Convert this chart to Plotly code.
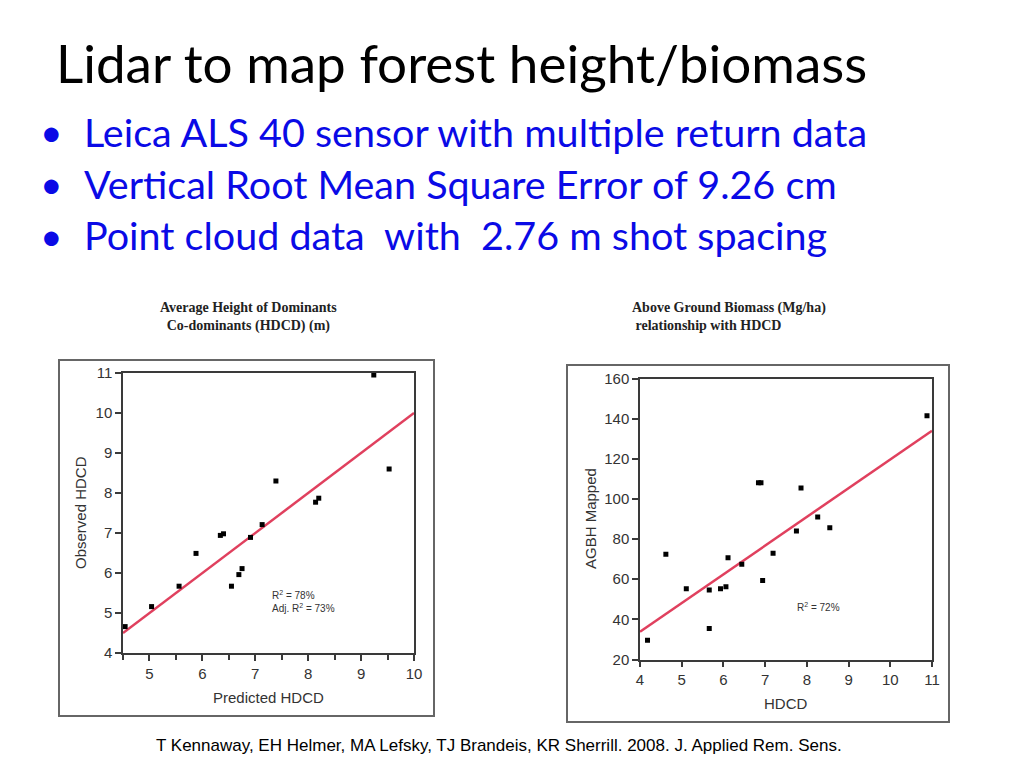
import plotly.graph_objects as go

# page is 1024x768; browser body has an 8px margin, so the figure is 1008x752
OFF = 8
W, H = 1024 - 2 * OFF, 768 - 2 * OFF

# ---- Data: left chart (Predicted vs Observed HDCD) ----
pred_hdcd = [4.54, 5.04, 5.56, 5.88, 6.34, 6.40, 6.55, 6.69, 6.75, 6.91, 7.13, 7.39, 8.14, 8.20, 9.24, 9.53]
obs_hdcd = [4.66, 5.16, 5.67, 6.49, 6.94, 6.98, 5.67, 5.96, 6.11, 6.89, 7.21, 8.30, 7.77, 7.87, 10.95, 8.60]
fit1_x = [4.5, 10.0]
fit1_y = [4.5, 10.0]

# ---- Data: right chart (HDCD vs AGBH Mapped) ----
hdcd = [4.18, 4.62, 5.11, 5.66, 5.66, 5.93, 6.06, 6.11, 6.44, 6.84, 6.90, 6.94, 7.19, 7.75, 7.86, 8.26, 8.55, 10.88]
agbh = [29.6, 72.4, 55.2, 54.6, 35.5, 55.2, 56.2, 70.7, 67.5, 108.1, 108.1, 59.4, 72.9, 84.0, 105.5, 91.0, 85.7, 141.5]
fit2_x = [4.0, 11.0]
fit2_y = [33.8, 134.0]

title_text = "Lidar to map forest height/biomass"
bullets = [
    "Leica ALS 40 sensor with multiple return data",
    "Vertical Root Mean Square Error of 9.26 cm",
    "Point cloud data  with  2.76 m shot spacing",
]
footnote = "T Kennaway, EH Helmer, MA Lefsky, TJ Brandeis, KR Sherrill. 2008. J. Applied Rem. Sens."


def px(x):
    return (x - OFF) / W


def py(y):
    return 1 - (y - OFF) / H


MARK = dict(symbol="square", size=5, color="black")
LINE = dict(color="#E0405E", width=2.5)
AX_COL = "#3a3a3a"
TICK_FONT = dict(family="Liberation Sans, Arial", size=15, color="#333333")

fig = go.Figure()
fig.add_trace(go.Scatter(x=fit1_x, y=fit1_y, mode="lines", line=LINE, xaxis="x", yaxis="y", hoverinfo="skip"))
fig.add_trace(go.Scatter(x=pred_hdcd, y=obs_hdcd, mode="markers", marker=MARK, xaxis="x", yaxis="y"))
fig.add_trace(go.Scatter(x=fit2_x, y=fit2_y, mode="lines", line=LINE, xaxis="x2", yaxis="y2", hoverinfo="skip"))
fig.add_trace(go.Scatter(x=hdcd, y=agbh, mode="markers", marker=MARK, xaxis="x2", yaxis="y2"))

axis_common = dict(showline=True, linecolor=AX_COL, linewidth=1.5, mirror=True,
                   ticks="outside", ticklen=6, tickcolor=AX_COL, tickwidth=1.5,
                   showgrid=False, zeroline=False, tickfont=TICK_FONT, automargin=False)

fig.update_layout(
    width=W, height=H,
    margin=dict(l=0, r=0, t=0, b=0, pad=0, autoexpand=False),
    paper_bgcolor="white", plot_bgcolor="white",
    showlegend=False,
    xaxis=dict(domain=[px(123), px(414)], range=[4.5, 10], tickmode="array",
               tickvals=[5, 6, 7, 8, 9, 10], anchor="y",
               minor=dict(tickvals=[4.5, 5.5, 6.5, 7.5, 8.5, 9.5], ticks="outside", ticklen=5,
                          tickcolor=AX_COL, tickwidth=1.5),
               **axis_common),
    yaxis=dict(domain=[py(653), py(373)], range=[4, 11], dtick=1, anchor="x", **axis_common),
    xaxis2=dict(domain=[px(640), px(932)], range=[4, 11], dtick=1, anchor="y2", **axis_common),
    yaxis2=dict(domain=[py(659.5), py(378.5)], range=[20, 160], dtick=20, anchor="x2", **axis_common),
)

shapes = []
for (x0, y0, x1, y1) in [(59, 360, 434, 716), (567, 365, 949, 722)]:
    shapes.append(dict(type="rect", xref="paper", yref="paper", x0=px(x0), x1=px(x1), y0=py(y0), y1=py(y1),
                       line=dict(color="#666666", width=2), fillcolor="rgba(0,0,0,0)", layer="above"))
fig.update_layout(shapes=shapes)

ann = []
ann.append(dict(text=title_text, x=px(54), y=py(63), xref="paper", yref="paper", xanchor="left", yanchor="middle",
                showarrow=False, font=dict(family="Lato", size=53, color="black")))
for i, b in enumerate(bullets):
    yc = 131 + 52 * i
    ann.append(dict(text="\u2022", x=px(38), y=py(yc), xref="paper", yref="paper", xanchor="left", yanchor="middle",
                    showarrow=False, font=dict(family="Lato", size=39, color="#0A0AE6")))
    ann.append(dict(text=b, x=px(82), y=py(yc), xref="paper", yref="paper", xanchor="left", yanchor="middle",
                    showarrow=False, font=dict(family="Lato", size=39.5, color="#0A0AE6")))
ann.append(dict(text=footnote, x=px(499), y=py(745), xref="paper", yref="paper", xanchor="center", yanchor="middle",
                showarrow=False, font=dict(family="Liberation Sans, Arial", size=17, color="black")))

serif_bold = dict(family="Liberation Serif, Times New Roman", size=14, color="#222222")
ann.append(dict(text="<b>Average Height of Dominants</b><br><b>Co-dominants (HDCD) (m)</b>", x=px(248), y=py(317),
                xref="paper", yref="paper", xanchor="center", yanchor="middle", showarrow=False, align="center",
                font=serif_bold))
ann.append(dict(text="<b>Above Ground Biomass (Mg/ha)</b><br><b> relationship with HDCD</b>", x=px(630), y=py(317),
                xref="paper", yref="paper", xanchor="left", yanchor="middle", showarrow=False, align="left",
                font=serif_bold))

lab_font = dict(family="Liberation Sans, Arial", size=15, color="#333333")
ann.append(dict(text="Observed HDCD", x=px(80), y=py(513), xref="paper", yref="paper", textangle=-90,
                xanchor="center", yanchor="middle", showarrow=False, font=lab_font))
ann.append(dict(text="Predicted HDCD", x=px(268), y=py(697), xref="paper", yref="paper",
                xanchor="center", yanchor="middle", showarrow=False, font=lab_font))
ann.append(dict(text="AGBH Mapped", x=px(590), y=py(519), xref="paper", yref="paper", textangle=-90,
                xanchor="center", yanchor="middle", showarrow=False, font=lab_font))
ann.append(dict(text="HDCD", x=px(785), y=py(703), xref="paper", yref="paper",
                xanchor="center", yanchor="middle", showarrow=False, font=lab_font))

small = dict(family="Liberation Sans, Arial", size=10, color="#333333")
ann.append(dict(text="R<sup>2</sup> = 78%<br>Adj. R<sup>2</sup> = 73%", x=7.27, y=5.3, xref="x", yref="y",
                xanchor="left", yanchor="middle", showarrow=False, align="left", font=small))
ann.append(dict(text="R<sup>2</sup> = 72%", x=7.72, y=46.1, xref="x2", yref="y2",
                xanchor="left", yanchor="middle", showarrow=False, align="left", font=small))
fig.update_layout(annotations=ann)

fig.write_html("out.html")
